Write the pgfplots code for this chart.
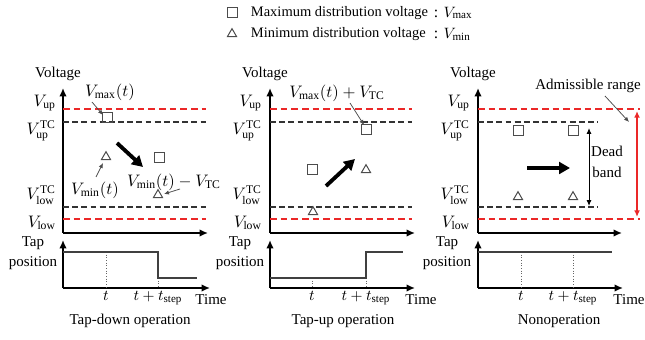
\documentclass[border=0pt]{standalone}
\usepackage{fontspec}
\setmainfont{Liberation Serif}
\usepackage{pgfplots}
\pgfplotsset{compat=1.18}
\usetikzlibrary{arrows.meta}
\definecolor{dred}{RGB}{235,40,40}
\pgfplotsset{
  base/.style={x=0.6pt, y=0.6pt, axis lines=left, anchor=south west, clip=false,
    axis line style={line width=1.1pt, -{Latex[length=5pt,width=4.5pt]}},
    xtick=\empty, ytick=\empty, major tick length=0pt},
  reddash/.style={dred, line width=1pt, dash pattern=on 4pt off 2.4pt},
  blkdash/.style={black!80, line width=0.7pt, dash pattern=on 3.5pt off 2pt},
  sq/.style={only marks, mark=square, mark size=3pt, mark options={draw=black!70, fill=white, line width=0.6pt, solid}},
  tri/.style={only marks, mark=triangle, mark size=3.2pt, mark options={draw=black!70, fill=white, line width=0.6pt, solid}},
  thickarrow/.style={black, line width=2.3pt, -{Triangle[length=6.5pt,width=7pt]}},
  thinarrow/.style={black!70, line width=0.45pt, -{Latex[length=3pt,width=2.6pt]}},
  stepline/.style={black!75, line width=1.1pt},
  dotline/.style={black!60, line width=0.6pt, densely dotted},
  tax/.style={base, xticklabel style={font=\fontsize{9.5}{10}\selectfont, inner sep=2pt}},
}
\newcommand{\mf}{\fontsize{10}{11}\selectfont}
\newcommand{\vlabels}[1]{%
  \node[anchor=east, font=\mf, inner sep=0.5pt] at (axis cs:#1,236) {$V_{\mathrm{up}}$};
  \node[anchor=east, font=\mf, inner sep=0.5pt] at (axis cs:#1,208) {$V_{\mathrm{up}}^{\mathrm{TC}}$};
  \node[anchor=east, font=\mf, inner sep=0.5pt] at (axis cs:#1,144) {$V_{\mathrm{low}}^{\mathrm{TC}}$};
  \node[anchor=east, font=\mf, inner sep=0.5pt] at (axis cs:#1,116) {$V_{\mathrm{low}}$};
}
\begin{document}
\begin{tikzpicture}[every node/.style={font=\fontsize{9}{10.5}\selectfont}]
\useasboundingbox (0,0) rectangle (387pt,203.4pt);

% ---------- Panel 1: voltage ----------
\begin{axis}[base, xmin=63, xmax=208, ymin=106, ymax=251, at={(37.8pt,63.6pt)}]
\addplot[reddash] coordinates {(63,230) (206,230)};
\addplot[reddash] coordinates {(63,120) (206,120)};
\addplot[blkdash] coordinates {(63,217) (206,217)};
\addplot[blkdash] coordinates {(63,132) (206,132)};
\addplot[sq] coordinates {(107,221) (159,181)};
\addplot[tri] coordinates {(106,182) (158,144)};
\addplot[thickarrow] coordinates {(117,196) (143,172)};
\addplot[thinarrow] coordinates {(92,237) (103,224)};
\addplot[thinarrow] coordinates {(96,162) (103,176)};
\addplot[thinarrow] coordinates {(180,150) (164,145)};
\node at (axis cs:58,265) {Voltage};
\node[font=\mf] at (axis cs:110,247) {$V_{\mathrm{max}}(t)$};
\node[font=\mf] at (axis cs:95,149) {$V_{\mathrm{min}}(t)$};
\node[font=\mf] at (axis cs:174,157) {$V_{\mathrm{min}}(t)-V_{\mathrm{TC}}$};
\vlabels{57}
\end{axis}

% ---------- Panel 2: voltage ----------
\begin{axis}[base, xmin=270, xmax=415, ymin=106, ymax=251, at={(162pt,63.6pt)}]
\addplot[reddash] coordinates {(270,230) (412,230)};
\addplot[reddash] coordinates {(270,120) (412,120)};
\addplot[blkdash] coordinates {(270,217) (412,217)};
\addplot[blkdash] coordinates {(270,132) (412,132)};
\addplot[sq] coordinates {(312,169) (366,209)};
\addplot[tri] coordinates {(366,169) (313,127)};
\addplot[thickarrow] coordinates {(326,153) (355,180)};
\addplot[thinarrow] coordinates {(350,236) (364,214)};
\node at (axis cs:265,265) {Voltage};
\node[font=\mf] at (axis cs:337,246) {$V_{\mathrm{max}}(t)+V_{\mathrm{TC}}$};
\vlabels{263}
% legend
\addplot[sq] coordinates {(232,326)};
\addplot[tri] coordinates {(232,305)};
\node[anchor=west, font=\fontsize{8.7}{10}\selectfont] at (axis cs:245,326) {Maximum distribution voltage};
\node[anchor=west, font=\fontsize{8.7}{10}\selectfont] at (axis cs:245,305) {Minimum distribution voltage};
\node[anchor=west, font=\fontsize{9.5}{10}\selectfont] at (axis cs:428,326) {: $V_{\mathrm{max}}$};
\node[anchor=west, font=\fontsize{9.5}{10}\selectfont] at (axis cs:428,305) {: $V_{\mathrm{min}}$};
\end{axis}

% ---------- Panel 3: voltage ----------
\begin{axis}[base, xmin=478, xmax=622, ymin=106, ymax=251, at={(286.8pt,63.6pt)}]
\addplot[reddash] coordinates {(478,230) (640,230)};
\addplot[reddash] coordinates {(478,120) (640,120)};
\addplot[blkdash] coordinates {(478,217) (598,217)};
\addplot[blkdash] coordinates {(478,132) (598,132)};
\addplot[sq] coordinates {(518,208) (573,208)};
\addplot[tri] coordinates {(518,142) (573,142)};
\addplot[thickarrow] coordinates {(527,171) (570,171)};
\addplot[black, line width=0.6pt, {Latex[length=3.5pt,width=3pt]}-{Latex[length=3.5pt,width=3pt]}] coordinates {(589,211) (589,133)};
\addplot[dred, line width=1pt, {Latex[length=4pt,width=3.5pt]}-{Latex[length=4pt,width=3.5pt]}] coordinates {(637,228) (637,122)};
\addplot[thinarrow] coordinates {(605,243) (629,217)};
\node at (axis cs:473,265) {Voltage};
\node at (axis cs:588,253) {Admissible range};
\node[align=center, font=\fontsize{9}{12.5}\selectfont] at (axis cs:607,177) {Dead\\band};
\vlabels{471}
\end{axis}

% ---------- Panel 1: tap ----------
\begin{axis}[tax, xmin=63, xmax=210, ymin=51, ymax=99, at={(37.8pt,30.6pt)},
  xtick={106,158}, xticklabels={$t$, $t+t_{\mathrm{step}}$}]
\addplot[dotline] coordinates {(106,87) (106,51)};
\addplot[dotline] coordinates {(158,61) (158,51)};
\addplot[stepline] coordinates {(63,87) (158,87) (158,61) (197,61)};
\node at (axis cs:211,39) {Time};
\node[align=center, font=\fontsize{9}{12}\selectfont] at (axis cs:33,86) {Tap\\position};
\node at (axis cs:130,18) {Tap-down operation};
\end{axis}

% ---------- Panel 2: tap ----------
\begin{axis}[tax, xmin=270, xmax=415, ymin=51, ymax=99, at={(162pt,30.6pt)},
  xtick={312,366}, xticklabels={$t$, $t+t_{\mathrm{step}}$}]
\addplot[dotline] coordinates {(312,61) (312,51)};
\addplot[dotline] coordinates {(366,61) (366,51)};
\addplot[stepline] coordinates {(270,61) (366,61) (366,87) (403,87)};
\node at (axis cs:421,39) {Time};
\node[align=center, font=\fontsize{9}{12}\selectfont] at (axis cs:240,86) {Tap\\position};
\node at (axis cs:343,18) {Tap-up operation};
\end{axis}

% ---------- Panel 3: tap ----------
\begin{axis}[tax, xmin=478, xmax=623, ymin=51, ymax=99, at={(286.8pt,30.6pt)},
  xtick={521,573}, xticklabels={$t$, $t+t_{\mathrm{step}}$}]
\addplot[dotline] coordinates {(521,87) (521,51)};
\addplot[dotline] coordinates {(573,87) (573,51)};
\addplot[stepline] coordinates {(478,87) (612,87)};
\node at (axis cs:629,39) {Time};
\node[align=center, font=\fontsize{9}{12}\selectfont] at (axis cs:447,86) {Tap\\position};
\node at (axis cs:559,18) {Nonoperation};
\end{axis}
\end{tikzpicture}
\end{document}
